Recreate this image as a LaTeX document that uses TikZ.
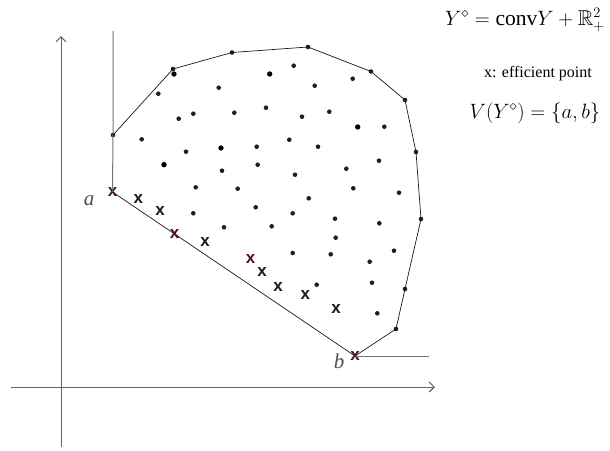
\documentclass[tikz,border=0pt]{standalone}
\usepackage{amssymb}
\usepackage{fontspec}
\setmainfont{Liberation Serif}
\newfontfamily\xmarkfont{Liberation Sans}
\usetikzlibrary{arrows.meta}
\begin{document}
\begin{tikzpicture}[x=1pt,y=-1pt,
  dotn/.style={circle,fill=black!88,inner sep=0pt,minimum size=4.6pt},
  bigdot/.style={circle,fill=black,inner sep=0pt,minimum size=5.4pt},
  vtx/.style={circle,fill=black!88,inner sep=0pt,minimum size=4.6pt},
  xm/.style={inner sep=0pt,font=\xmarkfont\bfseries\fontsize{17}{17}\selectfont,text=black!90},
  xmr/.style={xm,text={rgb,255:red,85;green,18;blue,22}},
  hull/.style={draw=black!90,line width=0.7pt},
  ray/.style={draw=black!55,line width=1pt},
  axis/.style={draw=black!60,line width=1pt,-{Straight Barb[length=5pt,width=10pt,line width=1.2pt]}},
  lbl/.style={inner sep=0pt,text=black!70,font=\itshape\fontsize{21}{21}\selectfont}]
\useasboundingbox (0,0) rectangle (610,450);
% axes
\coordinate (vb) at (61,447);
\coordinate (vt) at (61,36);
\coordinate (hl) at (11,387);
\coordinate (hr) at (435,387);
\draw[axis] (vb) -- (vt);
\draw[axis] (hl) -- (hr);
% hull vertices
\node[xmr] (a) at (112.5,192) {x};
\node[xmr] (b) at (355,356) {x};
\node[vtx] (v1) at (113,135) {};
\node[vtx] (v2) at (173,69) {};
\node[vtx] (v3) at (232,52.5) {};
\node[vtx] (v4) at (308,47) {};
\node[vtx] (v5) at (371,71.5) {};
\node[vtx] (v6) at (405,100) {};
\node[vtx] (v7) at (416,152) {};
\node[vtx] (v8) at (421,219) {};
\node[vtx] (v9) at (405,289) {};
\node[vtx] (v10) at (396,329) {};
\coordinate (rt) at (113,31);
\coordinate (rr) at (429,356);
\draw[ray] (a.center) -- (v1.center) -- (rt);
\draw[ray] (b.center) -- (rr);
\draw[hull] (v1.center) -- (v2.center) -- (v3.center) -- (v4.center) -- (v5.center) -- (v6.center) -- (v7.center) -- (v8.center) -- (v9.center) -- (v10.center) -- (b.center) -- (a.center);
% interior points
\foreach \n/\x/\y in {2/158.3/93.7,3/218.7/87.7,5/293.7/65.7,6/314.7/85.7,7/352.7/78.7,
 8/178.7/118.7,9/193.3/113.7,10/234.3/112.7,11/266/107.7,12/302/116.7,13/329.3/111.7,
 15/384.3/126.7,16/141.7/139.3,17/186/151.7,19/256.7/146.7,20/289.3/139.7,21/318/146.7,
 23/222/170.7,24/257.7/164.7,25/295/174.7,26/346.3/168.7,27/379/160.7,
 28/195.7/187.3,29/237.7/188.7,30/353.3/188.3,31/308.7/198.3,32/255.7/207.3,
 33/193.3/213.3,34/292.7/213.3,35/335/218.7,36/224/227.3,37/271.7/226.3,
 38/335.7/237.7,39/292.7/253,40/330.7/254.3,41/316.7/284.7,42/394/250.7,
 43/369.7/261.7,44/372/282.7,45/377.3/313.3,46/399/192.7,47/379.3/223.3}
  \node[dotn] (d\n) at (\x,\y) {};
\foreach \n/\x/\y in {1/174/74,4/269.7/74,14/357.7/127,18/221/148,22/164/164.7}
  \node[bigdot] (d\n) at (\x,\y) {};
% efficient points
\foreach \n/\x/\y in {1/138.3/199.3,2/160/211.3,4/205/241.7,6/262/272.3,7/278/287,8/305.3/295,9/336/309}
  \node[xm] (x\n) at (\x,\y) {x};
\node[xmr] (x3) at (174.7,234.3) {x};
\node[xmr] (x5) at (250.7,259) {x};
% labels
\node[lbl] (la) at (89,201) {a};
\node[lbl] (lb) at (339,361) {b};
\node[inner sep=0pt,font=\fontsize{21.5}{21.5}\selectfont] (t1) at (525,20) {$Y^{\diamond}=\mathrm{conv}Y+\mathbb{R}^{2}_{+}$};
\node[inner sep=0pt,font=\fontsize{16}{16}\selectfont] (t2) at (538,74) {x: efficient point};
\node[inner sep=0pt,font=\fontsize{20.5}{20.5}\selectfont] (t3) at (535,113) {$V(Y^{\diamond})=\{a,b\}$};
\end{tikzpicture}
\end{document}
